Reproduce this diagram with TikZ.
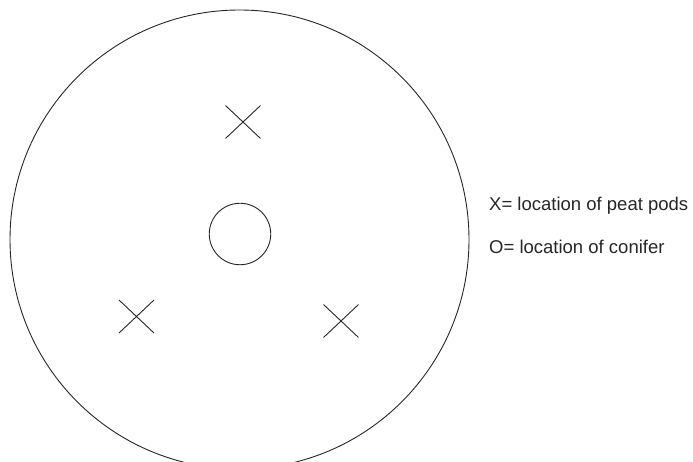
\documentclass[tikz,border=0pt]{standalone}
\usepackage{fontspec}
\setmainfont{Liberation Sans}
\usetikzlibrary{shapes.misc}
\begin{document}
\begin{tikzpicture}[x=1pt,y=-1pt,
  ln/.style={line width=0.9pt, draw=black!85},
  ring/.style={ln, circle, inner sep=0pt},
  xmark/.style={ln, cross out, inner sep=0pt, minimum width=34pt, minimum height=32pt},
  legend/.style={anchor=base west, inner sep=0pt, font=\fontsize{18.5}{22}\selectfont, text=black!85}]
  \useasboundingbox (0,0) rectangle (693,462);
  \begin{scope}
    \clip (0,0) rectangle (693,462);
    \node[ring, minimum size=459pt] (outer) at (239.5,239.5) {};
  \end{scope}
  \node[ring, minimum size=61.5pt] (conifer) at (240,234) {};
  \node[xmark] (podtop) at (243,122) {};
  \node[xmark] (podleft) at (136.5,316.5) {};
  \node[xmark] (podright) at (341,321) {};
  \node[legend] (legx) at (489,211) {X= location of peat pods};
  \node[legend] (lego) at (489,254) {O= location of conifer};
\end{tikzpicture}
\end{document}
